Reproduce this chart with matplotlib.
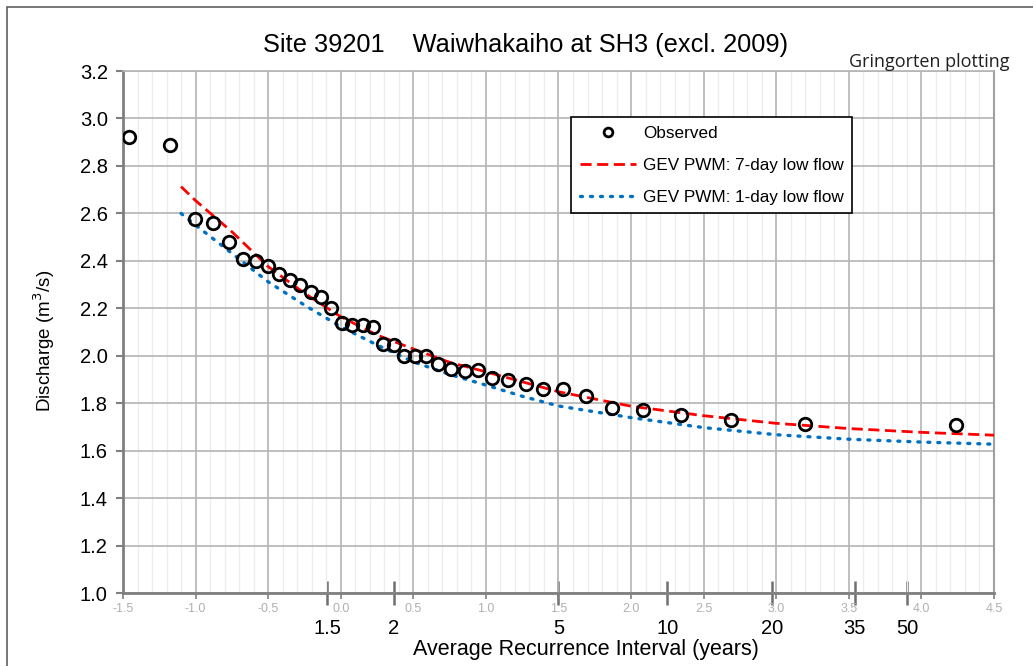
import numpy as np
import matplotlib
matplotlib.use('Agg')
import matplotlib.pyplot as plt
from matplotlib.patches import Rectangle

plt.rcParams['font.family'] = ['Liberation Sans', 'DejaVu Sans']

# observed points (Gumbel reduced variate, discharge)
obs_x = [-1.459, -1.176, -1.004, -0.880, -0.770, -0.674, -0.584, -0.501, -0.426, -0.350,
         -0.281, -0.205, -0.136, -0.067, 0.008, 0.077, 0.153, 0.222, 0.291, 0.366,
         0.435, 0.511, 0.587, 0.669, 0.759, 0.855, 0.945, 1.041, 1.152, 1.275,
         1.393, 1.530, 1.689, 1.868, 2.081, 2.343, 2.687, 3.197, 4.237]
obs_q = [2.92, 2.89, 2.575, 2.56, 2.48, 2.41, 2.40, 2.38, 2.345, 2.32,
         2.30, 2.27, 2.25, 2.20, 2.14, 2.13, 2.13, 2.12, 2.05, 2.045,
         2.00, 2.00, 2.00, 1.965, 1.945, 1.935, 1.94, 1.905, 1.90, 1.88,
         1.86, 1.86, 1.83, 1.78, 1.77, 1.75, 1.73, 1.715, 1.71]

# fitted curves
fit_x = [-1.1, -1.0, -0.75, -0.5, -0.25, 0.0, 0.25, 0.5, 0.75, 1.0,
         1.25, 1.5, 2.0, 2.5, 3.0, 3.5, 4.0, 4.5]
gev7 = [2.713, 2.654, 2.523, 2.376, 2.264, 2.165, 2.088, 2.029, 1.973, 1.933,
        1.891, 1.849, 1.788, 1.748, 1.716, 1.694, 1.678, 1.666]
gev1 = [2.60, 2.551, 2.432, 2.312, 2.214, 2.123, 2.046, 1.975, 1.922, 1.877,
        1.83, 1.789, 1.740, 1.698, 1.668, 1.649, 1.637, 1.628]

ari = [1.5, 2, 5, 10, 20, 35, 50]
ari_labels = ['1.5', '2', '5', '10', '20', '35', '50']


def to_T(y):
    y = np.asarray(y, dtype=float)
    return 1.0 / (1.0 - np.exp(-np.exp(-y)))


def to_y(T):
    T = np.asarray(T, dtype=float)
    T = np.clip(T, 1.0000001, None)
    return -np.log(-np.log(1.0 - 1.0 / T))


fig = plt.figure(figsize=(10.33, 6.66), dpi=100)
ax = fig.add_axes([123 / 1033, 1 - 593.3 / 666, 871 / 1033, 522.3 / 666])

# outer frame
fig.patches.append(Rectangle((7 / 1033, -0.1), 1.2, 1 - 7 / 666 + 0.1, transform=fig.transFigure,
                             fill=False, edgecolor='#606060', linewidth=1.2))

ax.plot(fit_x, gev7, linestyle=(0, (4, 2)), color='#ff0000', linewidth=2.0,
        label='GEV PWM: 7-day low flow', zorder=3)
ax.plot(fit_x, gev1, linestyle=(0, (0.6, 2.4)), dash_capstyle='round', color='#0070c0',
        linewidth=2.4, label='GEV PWM: 1-day low flow', zorder=3)
ax.plot(obs_x, obs_q, 'o', markerfacecolor='none', markeredgecolor='black',
        markersize=9, markeredgewidth=2.0, label='Observed', zorder=4)

ax.set_xlim(-1.5, 4.5)
ax.set_ylim(1.0, 3.2)
ax.set_xticks(np.arange(-1.5, 4.51, 0.5))
ax.set_xticks(np.arange(-1.5, 4.51, 0.1), minor=True)
ax.set_yticks(np.arange(1.0, 3.21, 0.2))
ax.set_xticklabels(['%.1f' % v for v in np.arange(-1.5, 4.51, 0.5)])
ax.set_yticklabels(['%.1f' % v for v in np.arange(1.0, 3.21, 0.2)])
ax.grid(which='major', color='#b4b4b4', linewidth=1.2)
ax.grid(which='minor', axis='x', color='#ececec', linewidth=0.9)
ax.set_axisbelow(True)

for s in ['left', 'bottom']:
    ax.spines[s].set_color('#808080')
    ax.spines[s].set_linewidth(2)
ax.spines['right'].set_color('#a0a0a0')
ax.spines['right'].set_linewidth(1.5)
ax.spines['top'].set_color('#b4b4b4')
ax.spines['top'].set_linewidth(1.2)

ax.tick_params(axis='y', which='major', labelsize=14.5, length=5, width=1.5,
               color='#808080', pad=6)
ax.tick_params(axis='x', which='major', labelsize=9, labelcolor='#b0b0b0',
               length=4, width=1.2, color='#808080', pad=3)
ax.tick_params(axis='x', which='minor', length=0)

# return period axis
sec = ax.secondary_xaxis('bottom', functions=(to_T, to_y))
sec.set_xticks(ari)
sec.set_xticklabels(ari_labels)
sec.minorticks_off()
sec.tick_params(axis='x', direction='inout', length=17, width=1.8, color='#707070',
                labelsize=14.5, pad=10)
sec.spines['bottom'].set_visible(False)

fig.text(526 / 1033, 1 - 45 / 666, 'Site 39201    Waiwhakaiho at SH3 (excl. 2009)',
         ha='center', va='center', fontsize=18.3)
fig.text(849 / 1033, 1 - 62 / 666, 'Gringorten plotting', ha='left', va='center',
         fontsize=13, family=['Open Sans', 'DejaVu Sans'], color='#202020')
fig.text(586 / 1033, 1 - 650 / 666, 'Average Recurrence Interval (years)',
         ha='center', va='center', fontsize=15.5)
fig.text(44 / 1033, 1 - 341 / 666, 'Discharge (m$^3$/s)', rotation=90,
         ha='center', va='center', fontsize=13.5)

h, l = ax.get_legend_handles_labels()
leg = fig.legend([h[2], h[0], h[1]], [l[2], l[0], l[1]], loc='upper left',
                 bbox_to_anchor=(571 / 1033, 1 - 117 / 666), borderaxespad=0,
                 fontsize=12.3, frameon=True, fancybox=False, edgecolor='black',
                 framealpha=1, handlelength=3.3, handletextpad=0.4,
                 labelspacing=1.0, borderpad=0.5, markerscale=0.7)
leg.get_frame().set_linewidth(1.2)

fig.savefig('out.png', dpi=100)
